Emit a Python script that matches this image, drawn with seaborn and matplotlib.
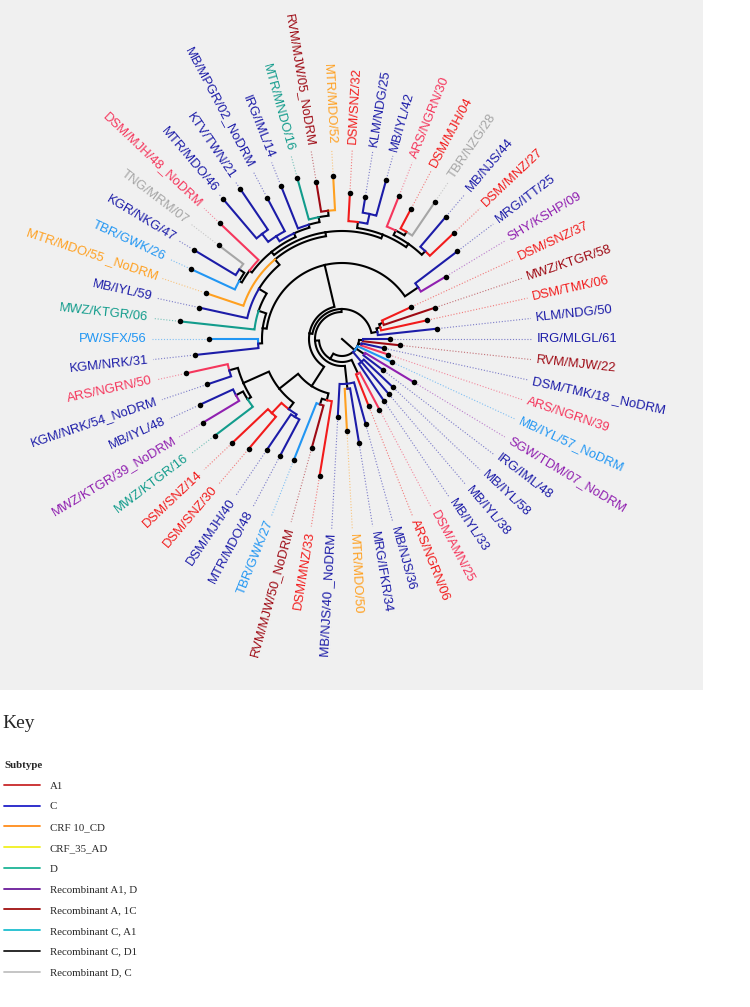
import numpy as np
import pandas as pd
import seaborn as sns
import matplotlib
matplotlib.use('Agg')
import matplotlib.pyplot as plt
from matplotlib.collections import LineCollection
from matplotlib.lines import Line2D
from matplotlib.font_manager import FontProperties

# tip labels, numbered t1..t58 in the newick below
tip_labels = [
    'IRG/MLGL/61', 'KLM/NDG/50', 'DSM/TMK/06', 'MWZ/KTGR/58', 'DSM/SNZ/37',
    'SHY/KSHP/09', 'MRG/ITT/25', 'DSM/MNZ/27', 'MB/NJS/44', 'TBR/NZG/28',
    'DSM/MJH/04', 'ARS/NGRN/30', 'MB/IYL/42', 'KLM/NDG/25', 'DSM/SNZ/32',
    'MTR/MDO/52', 'RVM/MJW/05_NoDRM', 'MTR/MNDO/16', 'IRG/IML/14', 'MB/MPGR/02_NoDRM',
    'KTV/TWN/21', 'MTR/MDO/46', 'DSM/MJH/48_NoDRM', 'TNG/MRM/07', 'KGR/NKG/47',
    'TBR/GWK/26', 'MTR/MDO/55 _NoDRM', 'MB/IYL/59', 'MWZ/KTGR/06', 'PW/SFX/56',
    'KGM/NRK/31', 'ARS/NGRN/50', 'KGM/NRK/54_NoDRM', 'MB/IYL/48', 'MWZ/KTGR/39_NoDRM',
    'MWZ/KTGR/16', 'DSM/SNZ/14', 'DSM/SNZ/30', 'DSM/MJH/40', 'MTR/MDO/48',
    'TBR/GWK/27', 'RVM/MJW/50_NoDRM', 'DSM/MNZ/33', 'MB/NJS/40 _NoDRM', 'MTR/MDO/50',
    'MRG/IFKR/34', 'MB/NJS/36', 'ARS/NGRN/06', 'DSM/AMN/25', 'MB/IYL/33',
    'MB/IYL/38', 'MB/IYL/58', 'IRG/IML/48', 'SGW/TDM/07_NoDRM', 'MB/IYL/57_NoDRM',
    'ARS/NGRN/39', 'DSM/TMK/18 _NoDRM', 'RVM/MJW/22',
]

tip_group = [
    'C', 'C', 'A1', 'Recombinant A, 1C', 'A1',
    'Recombinant A1, D', 'C', 'A1', 'C', 'Recombinant D, C',
    'A1', 'A1b', 'C', 'C', 'A1',
    'CRF 10_CD', 'Recombinant A, 1C', 'D', 'C', 'C',
    'C', 'C', 'A1b', 'Recombinant D, C', 'C',
    'Recombinant C, A1', 'CRF 10_CD', 'C', 'D', 'Recombinant C, A1',
    'C', 'A1b', 'C', 'C', 'Recombinant A1, D',
    'D', 'A1', 'A1', 'C', 'C',
    'Recombinant C, A1', 'Recombinant A, 1C', 'A1', 'C', 'CRF 10_CD',
    'C', 'C', 'A1', 'A1b', 'C',
    'C', 'C', 'C', 'Recombinant A1, D', 'Recombinant C, A1',
    'A1b', 'C', 'Recombinant A, 1C',
]

# tree pieces (branch lengths)
top_right = "(((t8:33,t9:39):5,((t10:41,t11:22):4,t12:33):5):4,((t13:37,t14:16):10,t15:28):6):4"
top_left = ("(((((t16:34,t17:30):5,t18:43):5,t19:46):3,(t20:38,(t21:49,t22:52):10):6):4,"
            "(t23:53,((t24:31,t25:49):6,t26:48):3):3):4")
lower = ("((((t32:43,t33:25):9,((t34:37,t35:42):8,t36:48):4):28,"
         "((t37:49,t38:42):14,(t39:43,t40:41):3):8):24,((t41:61,t42:44):6,t43:76):7):23")

top = "(" + top_right + "," + top_left + "):4"
ladder = "(((" + top + ",t27:40):7,t28:49):9,t29:75):8"
upper = "((t6:29,t7:53):16,(" + ladder + ",(t30:49,t31:64):4):4):43"
main = "(" + upper + "," + lower + "):3"
inner = "((t2:60,(t3:47,(t4:54,t5:32):4):4):6," + main + "):3"
inner = "(" + inner + ",(t44:33,(t45:42,t46:55):5,t47:43):18):4"
big = "(" + inner + ",(t48:34,t49:42):15):6"
newick = ("((" + big + ",(t50:45,t51:42,t52:40):13,(t53:25,t54:57):10,t55:38,"
          "(t56:29,t57:23):3,(t58:37,t1:27):4):17);")

tree_colours = {
    'A1': '#F21B1B', 'A1b': '#F5365C', 'C': '#1C1CA8', 'CRF 10_CD': '#FFA020',
    'D': '#129C8C', 'Recombinant A1, D': '#9020B0', 'Recombinant A, 1C': '#9E0A14',
    'Recombinant C, A1': '#2196F3', 'Recombinant D, C': '#A6A6A6',
}

legend_subtypes = ['A1', 'C', 'CRF 10_CD', 'CRF_35_AD', 'D', 'Recombinant A1, D',
                   'Recombinant A, 1C', 'Recombinant C, A1', 'Recombinant C, D1',
                   'Recombinant D, C']
legend_colours = ['#C8282A', '#2020C8', '#FF8C1A', '#F0F020', '#1EB496', '#6A1B9A',
                  '#A01010', '#1EBECF', '#1A1A1A', '#C0C0C0']


def parse_newick(s):
    pos = 0

    def node():
        nonlocal pos
        children = []
        if s[pos] == '(':
            pos += 1
            while True:
                children.append(node())
                if s[pos] == ',':
                    pos += 1
                else:
                    pos += 1
                    break
        start = pos
        while s[pos] not in ',():;':
            pos += 1
        name = s[start:pos]
        length = 0.0
        if s[pos] == ':':
            pos += 1
            start = pos
            while s[pos] not in ',();':
                pos += 1
            length = float(s[start:pos])
        return {'name': name, 'length': length, 'children': children}

    return node()


root = parse_newick(newick)
n_tips = len(tip_labels)
step = 360.0 / n_tips
counter = [0]


def layout(nd, r_parent):
    nd['r'] = r_parent + nd['length']
    if not nd['children']:
        counter[0] += 1
        nd['theta'] = counter[0] * step
        nd['tips'] = [int(nd['name'][1:]) - 1]
    else:
        for c in nd['children']:
            layout(c, nd['r'])
        nd['theta'] = np.mean([c['theta'] for c in nd['children']])
        nd['tips'] = sum((c['tips'] for c in nd['children']), [])


layout(root, 0.0)


def polar(r, th):
    t = np.deg2rad(th)
    return r * np.cos(t), r * np.sin(t)


black_paths, col_paths, col_cols = [], [], []
tip_rows = []


def collect(nd):
    for c in nd['children']:
        a = np.linspace(nd['theta'], c['theta'], max(2, int(abs(c['theta'] - nd['theta']) * nd['r'] / 40) + 2))
        xs, ys = polar(nd['r'], a)
        xe, ye = polar(c['r'], c['theta'])
        path = np.column_stack([np.append(xs, xe), np.append(ys, ye)])
        groups = {tip_group[i] for i in c['tips']}
        if len(groups) == 1:
            col_paths.append(path)
            col_cols.append(tree_colours[groups.pop()])
        else:
            black_paths.append(path)
        collect(c)
    if not nd['children']:
        i = nd['tips'][0]
        x, y = polar(nd['r'], nd['theta'])
        tip_rows.append({'x': x, 'y': y, 'r': nd['r'], 'theta': nd['theta'],
                         'label': tip_labels[i], 'group': tip_group[i]})


collect(root)
tips = pd.DataFrame(tip_rows)

sns.set_theme(style='white')
plt.rcParams['font.family'] = ['Liberation Sans', 'DejaVu Sans']

fig = plt.figure(figsize=(7.5, 10.07), dpi=100)
ax = fig.add_axes([0, 1 - 690 / 1007, 703 / 750, 690 / 1007])
ax.set_xlim(-342, 361)
ax.set_ylim(-351, 339)
ax.set_aspect('equal')
ax.add_patch(plt.Rectangle((0, 0), 1, 1, transform=ax.transAxes, color='#F0F0F0', zorder=0))

# dotted leaders from tip to label
lead = []
lead_cols = []
for _, t in tips.iterrows():
    x0, y0 = polar(t['r'] + 4, t['theta'])
    x1, y1 = polar(190, t['theta'])
    lead.append([(x0, y0), (x1, y1)])
    lead_cols.append(matplotlib.colors.to_rgba(tree_colours[t['group']], 0.55))
ax.add_collection(LineCollection(lead, colors=lead_cols, linewidths=0.8,
                                 linestyles=[(0, (1, 1.6))], zorder=1))

ax.add_collection(LineCollection(black_paths, colors='black', linewidths=1.5,
                                 capstyle='projecting', joinstyle='miter', zorder=2))
ax.add_collection(LineCollection(col_paths, colors=col_cols, linewidths=1.5,
                                 capstyle='projecting', joinstyle='miter', zorder=3))

sns.scatterplot(data=tips, x='x', y='y', color='black', s=16, linewidth=0,
                ax=ax, legend=False, zorder=5)
ax.axis('off')

for _, t in tips.iterrows():
    th = t['theta'] % 360
    x, y = polar(195, th)
    if 90 < th < 270:
        rot, ha = th - 180, 'right'
    else:
        rot, ha = th, 'left'
    ax.text(x, y, t['label'], rotation=rot, ha=ha, va='center', rotation_mode='anchor',
            fontsize=9.4, color=tree_colours[t['group']])

fig.text(2 / 750, 1 - 728 / 1007, 'Key', family='Liberation Serif', fontsize=14, va='baseline')

handles = [Line2D([], [], color=c, lw=1.3) for c in legend_colours]
fig.legend(handles, legend_subtypes, loc='upper left', bbox_to_anchor=(4 / 750, 1 - 761 / 1007),
           frameon=False, title='Subtype', alignment='left',
           prop=FontProperties(family='Liberation Serif', size=7.8),
           title_fontproperties=FontProperties(family='Liberation Serif', size=7.8, weight='bold'),
           handlelength=3.3, handletextpad=0.9, labelspacing=1.03, borderpad=0, borderaxespad=0)

fig.savefig('out.png', dpi=100, facecolor='white')
